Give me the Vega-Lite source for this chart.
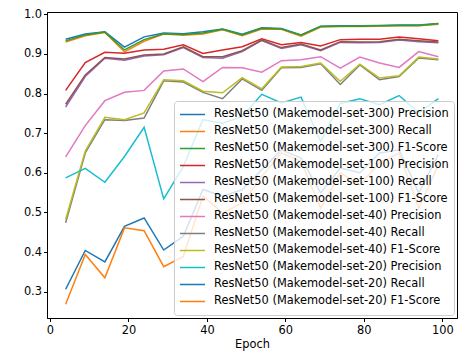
{
  "$schema": "https://vega.github.io/schema/vega-lite/v6.json",
  "width": 410,
  "height": 306,
  "autosize": {"type": "none"},
  "padding": {"left": 47, "top": 12, "right": 2, "bottom": 36},
  "background": "white",
  "config": {
    "view": {"stroke": "#000000", "strokeWidth": 1},
    "font": "DejaVu Sans",
    "axis": {
      "grid": false,
      "domainColor": "#000000",
      "tickColor": "#000000",
      "tickSize": 3.5,
      "labelColor": "#000000",
      "labelFont": "DejaVu Sans",
      "labelFontSize": 11.4,
      "titleFont": "DejaVu Sans",
      "titleFontSize": 11.4,
      "titleFontWeight": "normal",
      "titleColor": "#000000"
    }
  },
  "datasets": {
    "d": [
      {"epoch":4,"series":"ResNet50 (Makemodel-set-300) Precision","value":0.937},
      {"epoch":9,"series":"ResNet50 (Makemodel-set-300) Precision","value":0.950},
      {"epoch":14,"series":"ResNet50 (Makemodel-set-300) Precision","value":0.956},
      {"epoch":19,"series":"ResNet50 (Makemodel-set-300) Precision","value":0.917},
      {"epoch":24,"series":"ResNet50 (Makemodel-set-300) Precision","value":0.943},
      {"epoch":29,"series":"ResNet50 (Makemodel-set-300) Precision","value":0.953},
      {"epoch":34,"series":"ResNet50 (Makemodel-set-300) Precision","value":0.951},
      {"epoch":39,"series":"ResNet50 (Makemodel-set-300) Precision","value":0.956},
      {"epoch":44,"series":"ResNet50 (Makemodel-set-300) Precision","value":0.963},
      {"epoch":49,"series":"ResNet50 (Makemodel-set-300) Precision","value":0.950},
      {"epoch":54,"series":"ResNet50 (Makemodel-set-300) Precision","value":0.966},
      {"epoch":59,"series":"ResNet50 (Makemodel-set-300) Precision","value":0.964},
      {"epoch":64,"series":"ResNet50 (Makemodel-set-300) Precision","value":0.948},
      {"epoch":69,"series":"ResNet50 (Makemodel-set-300) Precision","value":0.970},
      {"epoch":74,"series":"ResNet50 (Makemodel-set-300) Precision","value":0.971},
      {"epoch":79,"series":"ResNet50 (Makemodel-set-300) Precision","value":0.971},
      {"epoch":84,"series":"ResNet50 (Makemodel-set-300) Precision","value":0.972},
      {"epoch":89,"series":"ResNet50 (Makemodel-set-300) Precision","value":0.973},
      {"epoch":94,"series":"ResNet50 (Makemodel-set-300) Precision","value":0.973},
      {"epoch":99,"series":"ResNet50 (Makemodel-set-300) Precision","value":0.977},

      {"epoch":4,"series":"ResNet50 (Makemodel-set-300) Recall","value":0.930},
      {"epoch":9,"series":"ResNet50 (Makemodel-set-300) Recall","value":0.946},
      {"epoch":14,"series":"ResNet50 (Makemodel-set-300) Recall","value":0.954},
      {"epoch":19,"series":"ResNet50 (Makemodel-set-300) Recall","value":0.905},
      {"epoch":24,"series":"ResNet50 (Makemodel-set-300) Recall","value":0.932},
      {"epoch":29,"series":"ResNet50 (Makemodel-set-300) Recall","value":0.950},
      {"epoch":34,"series":"ResNet50 (Makemodel-set-300) Recall","value":0.947},
      {"epoch":39,"series":"ResNet50 (Makemodel-set-300) Recall","value":0.950},
      {"epoch":44,"series":"ResNet50 (Makemodel-set-300) Recall","value":0.961},
      {"epoch":49,"series":"ResNet50 (Makemodel-set-300) Recall","value":0.946},
      {"epoch":54,"series":"ResNet50 (Makemodel-set-300) Recall","value":0.963},
      {"epoch":59,"series":"ResNet50 (Makemodel-set-300) Recall","value":0.962},
      {"epoch":64,"series":"ResNet50 (Makemodel-set-300) Recall","value":0.945},
      {"epoch":69,"series":"ResNet50 (Makemodel-set-300) Recall","value":0.968},
      {"epoch":74,"series":"ResNet50 (Makemodel-set-300) Recall","value":0.969},
      {"epoch":79,"series":"ResNet50 (Makemodel-set-300) Recall","value":0.969},
      {"epoch":84,"series":"ResNet50 (Makemodel-set-300) Recall","value":0.970},
      {"epoch":89,"series":"ResNet50 (Makemodel-set-300) Recall","value":0.971},
      {"epoch":94,"series":"ResNet50 (Makemodel-set-300) Recall","value":0.971},
      {"epoch":99,"series":"ResNet50 (Makemodel-set-300) Recall","value":0.975},

      {"epoch":4,"series":"ResNet50 (Makemodel-set-300) F1-Score","value":0.933},
      {"epoch":9,"series":"ResNet50 (Makemodel-set-300) F1-Score","value":0.948},
      {"epoch":14,"series":"ResNet50 (Makemodel-set-300) F1-Score","value":0.955},
      {"epoch":19,"series":"ResNet50 (Makemodel-set-300) F1-Score","value":0.910},
      {"epoch":24,"series":"ResNet50 (Makemodel-set-300) F1-Score","value":0.936},
      {"epoch":29,"series":"ResNet50 (Makemodel-set-300) F1-Score","value":0.951},
      {"epoch":34,"series":"ResNet50 (Makemodel-set-300) F1-Score","value":0.949},
      {"epoch":39,"series":"ResNet50 (Makemodel-set-300) F1-Score","value":0.953},
      {"epoch":44,"series":"ResNet50 (Makemodel-set-300) F1-Score","value":0.962},
      {"epoch":49,"series":"ResNet50 (Makemodel-set-300) F1-Score","value":0.948},
      {"epoch":54,"series":"ResNet50 (Makemodel-set-300) F1-Score","value":0.965},
      {"epoch":59,"series":"ResNet50 (Makemodel-set-300) F1-Score","value":0.963},
      {"epoch":64,"series":"ResNet50 (Makemodel-set-300) F1-Score","value":0.947},
      {"epoch":69,"series":"ResNet50 (Makemodel-set-300) F1-Score","value":0.969},
      {"epoch":74,"series":"ResNet50 (Makemodel-set-300) F1-Score","value":0.970},
      {"epoch":79,"series":"ResNet50 (Makemodel-set-300) F1-Score","value":0.970},
      {"epoch":84,"series":"ResNet50 (Makemodel-set-300) F1-Score","value":0.971},
      {"epoch":89,"series":"ResNet50 (Makemodel-set-300) F1-Score","value":0.972},
      {"epoch":94,"series":"ResNet50 (Makemodel-set-300) F1-Score","value":0.972},
      {"epoch":99,"series":"ResNet50 (Makemodel-set-300) F1-Score","value":0.976},

      {"epoch":4,"series":"ResNet50 (Makemodel-set-100) Precision","value":0.808},
      {"epoch":9,"series":"ResNet50 (Makemodel-set-100) Precision","value":0.878},
      {"epoch":14,"series":"ResNet50 (Makemodel-set-100) Precision","value":0.904},
      {"epoch":19,"series":"ResNet50 (Makemodel-set-100) Precision","value":0.902},
      {"epoch":24,"series":"ResNet50 (Makemodel-set-100) Precision","value":0.910},
      {"epoch":29,"series":"ResNet50 (Makemodel-set-100) Precision","value":0.912},
      {"epoch":34,"series":"ResNet50 (Makemodel-set-100) Precision","value":0.923},
      {"epoch":39,"series":"ResNet50 (Makemodel-set-100) Precision","value":0.901},
      {"epoch":44,"series":"ResNet50 (Makemodel-set-100) Precision","value":0.910},
      {"epoch":49,"series":"ResNet50 (Makemodel-set-100) Precision","value":0.918},
      {"epoch":54,"series":"ResNet50 (Makemodel-set-100) Precision","value":0.938},
      {"epoch":59,"series":"ResNet50 (Makemodel-set-100) Precision","value":0.923},
      {"epoch":64,"series":"ResNet50 (Makemodel-set-100) Precision","value":0.929},
      {"epoch":69,"series":"ResNet50 (Makemodel-set-100) Precision","value":0.920},
      {"epoch":74,"series":"ResNet50 (Makemodel-set-100) Precision","value":0.936},
      {"epoch":79,"series":"ResNet50 (Makemodel-set-100) Precision","value":0.937},
      {"epoch":84,"series":"ResNet50 (Makemodel-set-100) Precision","value":0.937},
      {"epoch":89,"series":"ResNet50 (Makemodel-set-100) Precision","value":0.943},
      {"epoch":94,"series":"ResNet50 (Makemodel-set-100) Precision","value":0.938},
      {"epoch":99,"series":"ResNet50 (Makemodel-set-100) Precision","value":0.933},

      {"epoch":4,"series":"ResNet50 (Makemodel-set-100) Recall","value":0.766},
      {"epoch":9,"series":"ResNet50 (Makemodel-set-100) Recall","value":0.843},
      {"epoch":14,"series":"ResNet50 (Makemodel-set-100) Recall","value":0.889},
      {"epoch":19,"series":"ResNet50 (Makemodel-set-100) Recall","value":0.884},
      {"epoch":24,"series":"ResNet50 (Makemodel-set-100) Recall","value":0.895},
      {"epoch":29,"series":"ResNet50 (Makemodel-set-100) Recall","value":0.898},
      {"epoch":34,"series":"ResNet50 (Makemodel-set-100) Recall","value":0.916},
      {"epoch":39,"series":"ResNet50 (Makemodel-set-100) Recall","value":0.891},
      {"epoch":44,"series":"ResNet50 (Makemodel-set-100) Recall","value":0.889},
      {"epoch":49,"series":"ResNet50 (Makemodel-set-100) Recall","value":0.906},
      {"epoch":54,"series":"ResNet50 (Makemodel-set-100) Recall","value":0.934},
      {"epoch":59,"series":"ResNet50 (Makemodel-set-100) Recall","value":0.914},
      {"epoch":64,"series":"ResNet50 (Makemodel-set-100) Recall","value":0.923},
      {"epoch":69,"series":"ResNet50 (Makemodel-set-100) Recall","value":0.908},
      {"epoch":74,"series":"ResNet50 (Makemodel-set-100) Recall","value":0.929},
      {"epoch":79,"series":"ResNet50 (Makemodel-set-100) Recall","value":0.928},
      {"epoch":84,"series":"ResNet50 (Makemodel-set-100) Recall","value":0.929},
      {"epoch":89,"series":"ResNet50 (Makemodel-set-100) Recall","value":0.935},
      {"epoch":94,"series":"ResNet50 (Makemodel-set-100) Recall","value":0.931},
      {"epoch":99,"series":"ResNet50 (Makemodel-set-100) Recall","value":0.928},

      {"epoch":4,"series":"ResNet50 (Makemodel-set-100) F1-Score","value":0.773},
      {"epoch":9,"series":"ResNet50 (Makemodel-set-100) F1-Score","value":0.847},
      {"epoch":14,"series":"ResNet50 (Makemodel-set-100) F1-Score","value":0.891},
      {"epoch":19,"series":"ResNet50 (Makemodel-set-100) F1-Score","value":0.887},
      {"epoch":24,"series":"ResNet50 (Makemodel-set-100) F1-Score","value":0.897},
      {"epoch":29,"series":"ResNet50 (Makemodel-set-100) F1-Score","value":0.900},
      {"epoch":34,"series":"ResNet50 (Makemodel-set-100) F1-Score","value":0.918},
      {"epoch":39,"series":"ResNet50 (Makemodel-set-100) F1-Score","value":0.893},
      {"epoch":44,"series":"ResNet50 (Makemodel-set-100) F1-Score","value":0.893},
      {"epoch":49,"series":"ResNet50 (Makemodel-set-100) F1-Score","value":0.908},
      {"epoch":54,"series":"ResNet50 (Makemodel-set-100) F1-Score","value":0.935},
      {"epoch":59,"series":"ResNet50 (Makemodel-set-100) F1-Score","value":0.916},
      {"epoch":64,"series":"ResNet50 (Makemodel-set-100) F1-Score","value":0.925},
      {"epoch":69,"series":"ResNet50 (Makemodel-set-100) F1-Score","value":0.910},
      {"epoch":74,"series":"ResNet50 (Makemodel-set-100) F1-Score","value":0.931},
      {"epoch":79,"series":"ResNet50 (Makemodel-set-100) F1-Score","value":0.930},
      {"epoch":84,"series":"ResNet50 (Makemodel-set-100) F1-Score","value":0.931},
      {"epoch":89,"series":"ResNet50 (Makemodel-set-100) F1-Score","value":0.937},
      {"epoch":94,"series":"ResNet50 (Makemodel-set-100) F1-Score","value":0.933},
      {"epoch":99,"series":"ResNet50 (Makemodel-set-100) F1-Score","value":0.930},

      {"epoch":4,"series":"ResNet50 (Makemodel-set-40) Precision","value":0.640},
      {"epoch":9,"series":"ResNet50 (Makemodel-set-40) Precision","value":0.719},
      {"epoch":14,"series":"ResNet50 (Makemodel-set-40) Precision","value":0.782},
      {"epoch":19,"series":"ResNet50 (Makemodel-set-40) Precision","value":0.803},
      {"epoch":24,"series":"ResNet50 (Makemodel-set-40) Precision","value":0.808},
      {"epoch":29,"series":"ResNet50 (Makemodel-set-40) Precision","value":0.857},
      {"epoch":34,"series":"ResNet50 (Makemodel-set-40) Precision","value":0.862},
      {"epoch":39,"series":"ResNet50 (Makemodel-set-40) Precision","value":0.830},
      {"epoch":44,"series":"ResNet50 (Makemodel-set-40) Precision","value":0.866},
      {"epoch":49,"series":"ResNet50 (Makemodel-set-40) Precision","value":0.865},
      {"epoch":54,"series":"ResNet50 (Makemodel-set-40) Precision","value":0.854},
      {"epoch":59,"series":"ResNet50 (Makemodel-set-40) Precision","value":0.883},
      {"epoch":64,"series":"ResNet50 (Makemodel-set-40) Precision","value":0.885},
      {"epoch":69,"series":"ResNet50 (Makemodel-set-40) Precision","value":0.893},
      {"epoch":74,"series":"ResNet50 (Makemodel-set-40) Precision","value":0.864},
      {"epoch":79,"series":"ResNet50 (Makemodel-set-40) Precision","value":0.892},
      {"epoch":84,"series":"ResNet50 (Makemodel-set-40) Precision","value":0.877},
      {"epoch":89,"series":"ResNet50 (Makemodel-set-40) Precision","value":0.866},
      {"epoch":94,"series":"ResNet50 (Makemodel-set-40) Precision","value":0.906},
      {"epoch":99,"series":"ResNet50 (Makemodel-set-40) Precision","value":0.893},

      {"epoch":4,"series":"ResNet50 (Makemodel-set-40) Recall","value":0.474},
      {"epoch":9,"series":"ResNet50 (Makemodel-set-40) Recall","value":0.650},
      {"epoch":14,"series":"ResNet50 (Makemodel-set-40) Recall","value":0.734},
      {"epoch":19,"series":"ResNet50 (Makemodel-set-40) Recall","value":0.732},
      {"epoch":24,"series":"ResNet50 (Makemodel-set-40) Recall","value":0.738},
      {"epoch":29,"series":"ResNet50 (Makemodel-set-40) Recall","value":0.832},
      {"epoch":34,"series":"ResNet50 (Makemodel-set-40) Recall","value":0.829},
      {"epoch":39,"series":"ResNet50 (Makemodel-set-40) Recall","value":0.803},
      {"epoch":44,"series":"ResNet50 (Makemodel-set-40) Recall","value":0.787},
      {"epoch":49,"series":"ResNet50 (Makemodel-set-40) Recall","value":0.837},
      {"epoch":54,"series":"ResNet50 (Makemodel-set-40) Recall","value":0.808},
      {"epoch":59,"series":"ResNet50 (Makemodel-set-40) Recall","value":0.865},
      {"epoch":64,"series":"ResNet50 (Makemodel-set-40) Recall","value":0.866},
      {"epoch":69,"series":"ResNet50 (Makemodel-set-40) Recall","value":0.875},
      {"epoch":74,"series":"ResNet50 (Makemodel-set-40) Recall","value":0.823},
      {"epoch":79,"series":"ResNet50 (Makemodel-set-40) Recall","value":0.872},
      {"epoch":84,"series":"ResNet50 (Makemodel-set-40) Recall","value":0.835},
      {"epoch":89,"series":"ResNet50 (Makemodel-set-40) Recall","value":0.843},
      {"epoch":94,"series":"ResNet50 (Makemodel-set-40) Recall","value":0.890},
      {"epoch":99,"series":"ResNet50 (Makemodel-set-40) Recall","value":0.885},

      {"epoch":4,"series":"ResNet50 (Makemodel-set-40) F1-Score","value":0.482},
      {"epoch":9,"series":"ResNet50 (Makemodel-set-40) F1-Score","value":0.655},
      {"epoch":14,"series":"ResNet50 (Makemodel-set-40) F1-Score","value":0.740},
      {"epoch":19,"series":"ResNet50 (Makemodel-set-40) F1-Score","value":0.734},
      {"epoch":24,"series":"ResNet50 (Makemodel-set-40) F1-Score","value":0.751},
      {"epoch":29,"series":"ResNet50 (Makemodel-set-40) F1-Score","value":0.835},
      {"epoch":34,"series":"ResNet50 (Makemodel-set-40) F1-Score","value":0.832},
      {"epoch":39,"series":"ResNet50 (Makemodel-set-40) F1-Score","value":0.806},
      {"epoch":44,"series":"ResNet50 (Makemodel-set-40) F1-Score","value":0.802},
      {"epoch":49,"series":"ResNet50 (Makemodel-set-40) F1-Score","value":0.840},
      {"epoch":54,"series":"ResNet50 (Makemodel-set-40) F1-Score","value":0.812},
      {"epoch":59,"series":"ResNet50 (Makemodel-set-40) F1-Score","value":0.867},
      {"epoch":64,"series":"ResNet50 (Makemodel-set-40) F1-Score","value":0.868},
      {"epoch":69,"series":"ResNet50 (Makemodel-set-40) F1-Score","value":0.877},
      {"epoch":74,"series":"ResNet50 (Makemodel-set-40) F1-Score","value":0.831},
      {"epoch":79,"series":"ResNet50 (Makemodel-set-40) F1-Score","value":0.874},
      {"epoch":84,"series":"ResNet50 (Makemodel-set-40) F1-Score","value":0.839},
      {"epoch":89,"series":"ResNet50 (Makemodel-set-40) F1-Score","value":0.845},
      {"epoch":94,"series":"ResNet50 (Makemodel-set-40) F1-Score","value":0.892},
      {"epoch":99,"series":"ResNet50 (Makemodel-set-40) F1-Score","value":0.887},

      {"epoch":4,"series":"ResNet50 (Makemodel-set-20) Precision","value":0.587},
      {"epoch":9,"series":"ResNet50 (Makemodel-set-20) Precision","value":0.611},
      {"epoch":14,"series":"ResNet50 (Makemodel-set-20) Precision","value":0.576},
      {"epoch":19,"series":"ResNet50 (Makemodel-set-20) Precision","value":0.641},
      {"epoch":24,"series":"ResNet50 (Makemodel-set-20) Precision","value":0.715},
      {"epoch":29,"series":"ResNet50 (Makemodel-set-20) Precision","value":0.534},
      {"epoch":34,"series":"ResNet50 (Makemodel-set-20) Precision","value":0.616},
      {"epoch":39,"series":"ResNet50 (Makemodel-set-20) Precision","value":0.734},
      {"epoch":44,"series":"ResNet50 (Makemodel-set-20) Precision","value":0.725},
      {"epoch":49,"series":"ResNet50 (Makemodel-set-20) Precision","value":0.742},
      {"epoch":54,"series":"ResNet50 (Makemodel-set-20) Precision","value":0.798},
      {"epoch":59,"series":"ResNet50 (Makemodel-set-20) Precision","value":0.776},
      {"epoch":64,"series":"ResNet50 (Makemodel-set-20) Precision","value":0.791},
      {"epoch":69,"series":"ResNet50 (Makemodel-set-20) Precision","value":0.679},
      {"epoch":74,"series":"ResNet50 (Makemodel-set-20) Precision","value":0.775},
      {"epoch":79,"series":"ResNet50 (Makemodel-set-20) Precision","value":0.787},
      {"epoch":84,"series":"ResNet50 (Makemodel-set-20) Precision","value":0.772},
      {"epoch":89,"series":"ResNet50 (Makemodel-set-20) Precision","value":0.795},
      {"epoch":94,"series":"ResNet50 (Makemodel-set-20) Precision","value":0.752},
      {"epoch":99,"series":"ResNet50 (Makemodel-set-20) Precision","value":0.787},

      {"epoch":4,"series":"ResNet50 (Makemodel-set-20) Recall","value":0.306},
      {"epoch":9,"series":"ResNet50 (Makemodel-set-20) Recall","value":0.404},
      {"epoch":14,"series":"ResNet50 (Makemodel-set-20) Recall","value":0.375},
      {"epoch":19,"series":"ResNet50 (Makemodel-set-20) Recall","value":0.465},
      {"epoch":24,"series":"ResNet50 (Makemodel-set-20) Recall","value":0.486},
      {"epoch":29,"series":"ResNet50 (Makemodel-set-20) Recall","value":0.405},
      {"epoch":34,"series":"ResNet50 (Makemodel-set-20) Recall","value":0.440},
      {"epoch":39,"series":"ResNet50 (Makemodel-set-20) Recall","value":0.558},
      {"epoch":44,"series":"ResNet50 (Makemodel-set-20) Recall","value":0.541},
      {"epoch":49,"series":"ResNet50 (Makemodel-set-20) Recall","value":0.557},
      {"epoch":54,"series":"ResNet50 (Makemodel-set-20) Recall","value":0.608},
      {"epoch":59,"series":"ResNet50 (Makemodel-set-20) Recall","value":0.658},
      {"epoch":64,"series":"ResNet50 (Makemodel-set-20) Recall","value":0.637},
      {"epoch":69,"series":"ResNet50 (Makemodel-set-20) Recall","value":0.549},
      {"epoch":74,"series":"ResNet50 (Makemodel-set-20) Recall","value":0.612},
      {"epoch":79,"series":"ResNet50 (Makemodel-set-20) Recall","value":0.600},
      {"epoch":84,"series":"ResNet50 (Makemodel-set-20) Recall","value":0.650},
      {"epoch":89,"series":"ResNet50 (Makemodel-set-20) Recall","value":0.658},
      {"epoch":94,"series":"ResNet50 (Makemodel-set-20) Recall","value":0.549},
      {"epoch":99,"series":"ResNet50 (Makemodel-set-20) Recall","value":0.646},

      {"epoch":4,"series":"ResNet50 (Makemodel-set-20) F1-Score","value":0.268},
      {"epoch":9,"series":"ResNet50 (Makemodel-set-20) F1-Score","value":0.394},
      {"epoch":14,"series":"ResNet50 (Makemodel-set-20) F1-Score","value":0.335},
      {"epoch":19,"series":"ResNet50 (Makemodel-set-20) F1-Score","value":0.461},
      {"epoch":24,"series":"ResNet50 (Makemodel-set-20) F1-Score","value":0.454},
      {"epoch":29,"series":"ResNet50 (Makemodel-set-20) F1-Score","value":0.363},
      {"epoch":34,"series":"ResNet50 (Makemodel-set-20) F1-Score","value":0.389},
      {"epoch":39,"series":"ResNet50 (Makemodel-set-20) F1-Score","value":0.541},
      {"epoch":44,"series":"ResNet50 (Makemodel-set-20) F1-Score","value":0.499},
      {"epoch":49,"series":"ResNet50 (Makemodel-set-20) F1-Score","value":0.524},
      {"epoch":54,"series":"ResNet50 (Makemodel-set-20) F1-Score","value":0.591},
      {"epoch":59,"series":"ResNet50 (Makemodel-set-20) F1-Score","value":0.650},
      {"epoch":64,"series":"ResNet50 (Makemodel-set-20) F1-Score","value":0.629},
      {"epoch":69,"series":"ResNet50 (Makemodel-set-20) F1-Score","value":0.511},
      {"epoch":74,"series":"ResNet50 (Makemodel-set-20) F1-Score","value":0.600},
      {"epoch":79,"series":"ResNet50 (Makemodel-set-20) F1-Score","value":0.570},
      {"epoch":84,"series":"ResNet50 (Makemodel-set-20) F1-Score","value":0.625},
      {"epoch":89,"series":"ResNet50 (Makemodel-set-20) F1-Score","value":0.650},
      {"epoch":94,"series":"ResNet50 (Makemodel-set-20) F1-Score","value":0.511},
      {"epoch":99,"series":"ResNet50 (Makemodel-set-20) F1-Score","value":0.620}
    ]
  },
  "data": {"name": "d"},
  "mark": {"type": "line", "strokeWidth": 1.5, "clip": true},
  "encoding": {
    "x": {
      "field": "epoch",
      "type": "quantitative",
      "title": "Epoch",
      "scale": {"domain": [-0.75, 103.75], "nice": false, "zero": false},
      "axis": {"values": [0, 20, 40, 60, 80, 100], "labelPadding": 3, "titlePadding": 3, "labelFlush": false}
    },
    "y": {
      "field": "value",
      "type": "quantitative",
      "title": null,
      "scale": {"domain": [0.2335, 1.0058], "nice": false, "zero": false},
      "axis": {"values": [0.3, 0.4, 0.5, 0.6, 0.7, 0.8, 0.9, 1.0], "format": ".1f", "labelPadding": 2, "labelFlush": false}
    },
    "color": {
      "field": "series",
      "type": "nominal",
      "sort": null,
      "scale": {
        "domain": [
          "ResNet50 (Makemodel-set-300) Precision",
          "ResNet50 (Makemodel-set-300) Recall",
          "ResNet50 (Makemodel-set-300) F1-Score",
          "ResNet50 (Makemodel-set-100) Precision",
          "ResNet50 (Makemodel-set-100) Recall",
          "ResNet50 (Makemodel-set-100) F1-Score",
          "ResNet50 (Makemodel-set-40) Precision",
          "ResNet50 (Makemodel-set-40) Recall",
          "ResNet50 (Makemodel-set-40) F1-Score",
          "ResNet50 (Makemodel-set-20) Precision",
          "ResNet50 (Makemodel-set-20) Recall",
          "ResNet50 (Makemodel-set-20) F1-Score"
        ],
        "range": ["#1f77b4", "#ff7f0e", "#2ca02c", "#d62728", "#9467bd", "#8c564b", "#e377c2", "#7f7f7f", "#bcbd22", "#17becf", "#1f77b4", "#ff7f0e"]
      },
      "legend": {
        "orient": "bottom-right",
        "title": null,
        "offset": 3,
        "fillColor": "rgba(255,255,255,0.8)",
        "strokeColor": "#cccccc",
        "cornerRadius": 3,
        "padding": 5,
        "symbolType": "stroke",
        "symbolSize": 625,
        "symbolStrokeWidth": 1.5,
        "labelFont": "DejaVu Sans",
        "labelFontSize": 11.4,
        "labelColor": "#000000",
        "labelLimit": 400,
        "labelOffset": 8,
        "clipHeight": 16.8,
        "rowPadding": 0
      }
    }
  }
}
